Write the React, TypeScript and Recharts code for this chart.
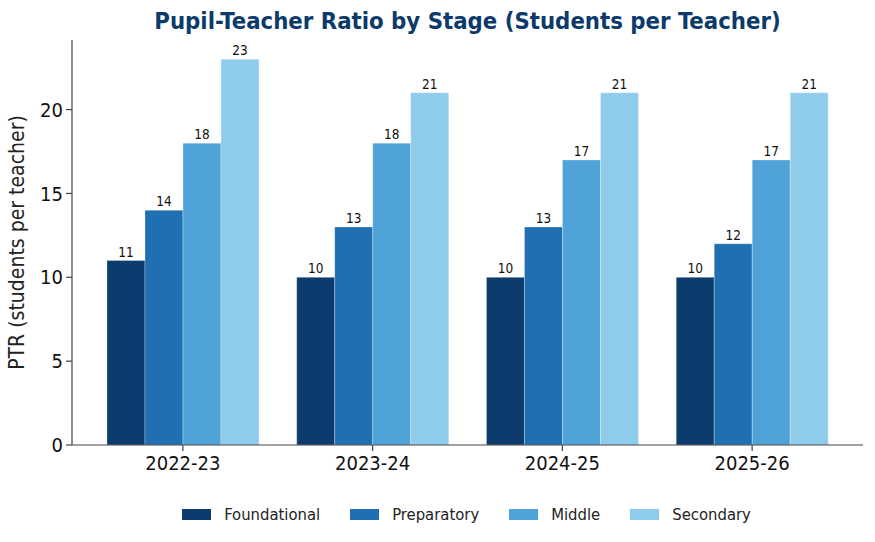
import React from 'react';
import { BarChart, Bar, XAxis, YAxis, Legend, LabelList } from 'recharts';

const years = ['2022-23', '2023-24', '2024-25', '2025-26'];
const foundational = [11, 10, 10, 10];
const preparatory = [14, 13, 13, 12];
const middle = [18, 18, 17, 17];
const secondary = [23, 21, 21, 21];
const yTicks = [0, 5, 10, 15, 20];

const seriesNames = ['Foundational', 'Preparatory', 'Middle', 'Secondary'];
const seriesKeys = ['foundational', 'preparatory', 'middle', 'secondary'];
const seriesColors = ['#0b3c6d', '#1f6fb2', '#4fa3d9', '#8fcbea'];

const data = years.map((y, i) => ({
  year: y,
  foundational: foundational[i],
  preparatory: preparatory[i],
  middle: middle[i],
  secondary: secondary[i],
}));

const FONT = "'DejaVu Sans Condensed', 'DejaVu Sans', sans-serif";
const AXIS = '#444';
const txt = { fontFamily: FONT, fontStretch: 'condensed' as const };

const LegendContent = () => (
  <div style={{ height: 40, width: 791, paddingLeft: 71, display: 'flex', justifyContent: 'center', alignItems: 'flex-start', ...txt, fontSize: 16.5, color: '#222' }}>
    {seriesNames.map((n, i) => (
      <div key={n} style={{ display: 'flex', alignItems: 'center', marginLeft: i === 0 ? 0 : 30, height: 24 }}>
        <div style={{ width: 29, height: 11, background: seriesColors[i], marginRight: 13 }} />
        <span>{n}</span>
      </div>
    ))}
  </div>
);

export default function App() {
  return (
    <div style={{ position: 'absolute', left: 0, top: 0, width: 875, height: 542, background: '#fff' }}>
      <div style={{ position: 'absolute', left: 0, width: 935, top: 7, textAlign: 'center', ...txt, fontWeight: 'bold', fontSize: 23.7, color: '#0b3a6b' }}>
        Pupil-Teacher Ratio by Stage (Students per Teacher)
      </div>
      <BarChart
        width={875}
        height={542}
        data={data}
        margin={{ top: 40, right: 12, bottom: 0, left: 0 }}
        barCategoryGap="10%"
        barGap={0}
      >
        <XAxis
          dataKey="year"
          padding={{ left: 16, right: 16 }}
          height={57}
          tickSize={6}
          tickMargin={5}
          tick={{ ...txt, fontSize: 20, fill: '#111' }}
          axisLine={{ stroke: AXIS, strokeWidth: 1.2 }}
          tickLine={{ stroke: AXIS, strokeWidth: 1.2 }}
        />
        <YAxis
          width={72}
          domain={[0, 24.15]}
          ticks={yTicks}
          tickSize={6}
          tickMargin={3}
          tick={{ ...txt, fontSize: 20, fill: '#111' }}
          axisLine={{ stroke: AXIS, strokeWidth: 1.2 }}
          tickLine={{ stroke: AXIS, strokeWidth: 1.2 }}
          label={{
            value: 'PTR (students per teacher)',
            angle: -90,
            position: 'insideLeft',
            dx: 12,
            dy: 0,
            style: { ...txt, fontSize: 21, fill: '#222', textAnchor: 'middle' },
          }}
        />
        <Legend verticalAlign="bottom" content={<LegendContent />} />
        {seriesKeys.map((k, i) => (
          <Bar
            key={k}
            dataKey={k}
            name={seriesNames[i]}
            fill={seriesColors[i]}
            stroke="#ffffff"
            strokeWidth={0.6}
            strokeOpacity={0.5}
            isAnimationActive={false}
          >
            <LabelList dataKey={k} position="top" offset={4} style={{ ...txt, fontSize: 13.5, fill: '#111' }} />
          </Bar>
        ))}
      </BarChart>
    </div>
  );
}
